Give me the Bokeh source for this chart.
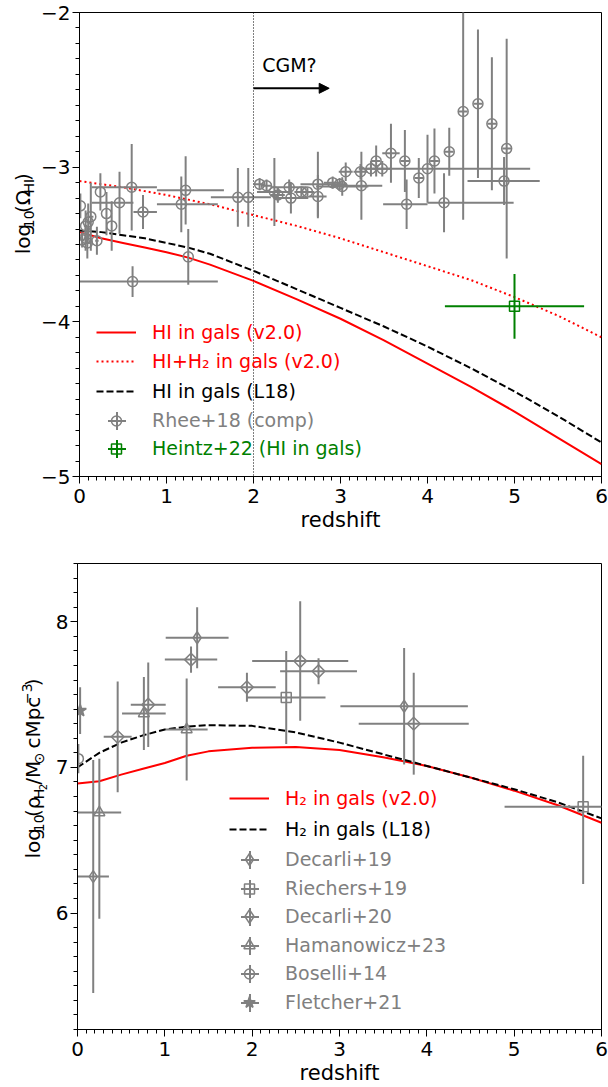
import numpy as np
from bokeh.plotting import figure
from bokeh.models import (ColumnDataSource, FixedTicker, Span, Arrow, NormalHead, Label,
                          Legend, LegendItem, CustomJSTickFormatter, Range1d)
from bokeh.core.properties import value
from bokeh.layouts import column, row
from bokeh.embed import file_html
from bokeh.resources import INLINE

FONT = "DejaVu Sans"
GREY = "#808080"
RED = "#ff0000"
GREEN = "#008000"

# ---------------- top panel: HI ----------------
z_model_hi = [0.0, 0.25, 0.5, 0.75, 1.0, 1.25, 1.5, 2.0, 2.5, 3.0, 3.5, 4.0, 4.5, 5.0, 5.5, 6.0]
log_omega_hi_v20 = [-3.42, -3.46, -3.49, -3.52, -3.55, -3.585, -3.63, -3.735, -3.855, -3.98,
                    -4.12, -4.27, -4.42, -4.58, -4.75, -4.92]
log_omega_hih2_v20 = [-3.09, -3.11, -3.13, -3.155, -3.18, -3.21, -3.24, -3.31, -3.38, -3.46,
                      -3.55, -3.64, -3.73, -3.84, -3.96, -4.10]
log_omega_hi_l18 = [-3.41, -3.42, -3.44, -3.46, -3.49, -3.52, -3.56, -3.67, -3.79, -3.91,
                    -4.03, -4.16, -4.30, -4.45, -4.61, -4.78]

rhee_z = [0.01, 0.03, 0.07, 0.07, 0.09, 0.10, 0.13, 0.20, 0.24, 0.31, 0.37, 0.46, 0.60, 0.61,
          0.73, 1.17, 1.22, 1.25, 1.82, 1.94, 2.07, 2.15, 2.24, 2.28, 2.41, 2.43, 2.55, 2.62,
          2.74, 2.74, 2.91, 2.99, 3.02, 3.06, 3.23, 3.24, 3.35, 3.41, 3.48, 3.58, 3.74, 3.76,
          3.90, 4.00, 4.08, 4.19, 4.25, 4.41, 4.58, 4.74, 4.91, 4.88]
rhee_log_omega = [-3.25, -3.47, -3.46, -3.38, -3.49, -3.355, -3.32, -3.476, -3.16, -3.30, -3.38,
                  -3.23, -3.13, -3.74, -3.29, -3.24, -3.15, -3.58, -3.195, -3.195, -3.11, -3.12,
                  -3.16, -3.18, -3.13, -3.20, -3.16, -3.16, -3.11, -3.19, -3.10, -3.11, -3.125,
                  -3.03, -3.03, -3.12, -3.01, -2.96, -3.01, -2.91, -2.96, -3.24, -3.07, -3.01,
                  -2.96, -3.23, -2.90, -2.64, -2.59, -2.72, -2.88, -3.09]
rhee_zlo = [0.0, 0.02, 0.02, 0.02, 0.03, 0.02, 0.03, 0.02, 0.0, 0.0, 0.0, 0.32, 0.46, 0.61,
            0.11, 0.28, 0.33, 0.0, 0.31, 0.0, 0.06, 0.06, 0.2, 0.08, 0.2, 0.2, 0.08, 0.08,
            0.2, 0.1, 0.1, 0.08, 0.3, 0.08, 0.08, 0.35, 0.05, 0.05, 0.1, 0.1, 0.05, 0.27,
            0.05, 0.79, 0.05, 0.19, 0.05, 0.05, 0.05, 0.05, 0.05, 0.42]
rhee_zhi = [0.0, 0.02, 0.02, 0.02, 0.03, 0.02, 0.03, 0.02, 0.0, 0.0, 0.0, 0.16, 0.29, 0.98,
            0.16, 0.42, 0.44, 0.0, 0.38, 0.0, 0.06, 0.06, 0.2, 0.08, 0.2, 0.2, 0.08, 0.08,
            0.2, 0.1, 0.1, 0.08, 0.3, 0.08, 0.08, 0.24, 0.05, 0.05, 0.1, 0.1, 0.05, 0.24,
            0.05, 1.18, 0.05, 0.80, 0.05, 0.05, 0.05, 0.05, 0.05, 0.41]
rhee_err = [0.08, 0.05, 0.08, 0.10, 0.10, 0.12, 0.22, 0.09, 0.12, 0.14, 0.16, 0.20, 0.28, 0.10,
            0.11, 0.18, 0.22, 0.18, 0.19, 0.19, 0.04, 0.04, 0.22, 0.05, 0.05, 0.10, 0.03, 0.03,
            0.21, 0.14, 0.04, 0.04, 0.06, 0.06, 0.05, 0.22, 0.05, 0.10, 0.05, 0.19, 0.20, 0.16,
            0.13, 0.22, 0.21, 0.19, 0.155, 0.70, 0.48, 0.43, 0.71, 0.155]

heintz_z = [5.0]
heintz_log_omega = [-3.90]
heintz_zerr = [0.8]
heintz_err = [0.21]

cgm_line_z = 2.0
cgm_arrow = dict(z0=2.0, z1=2.87, y=-2.49)
cgm_text = dict(z=2.10, y=-2.34, text="CGM?")

# ---------------- bottom panel: H2 ----------------
z_model_h2 = [0.0, 0.25, 0.5, 0.75, 1.0, 1.25, 1.5, 2.0, 2.5, 3.0, 3.5, 4.0, 4.5, 5.0, 5.5, 6.0]
log_rho_h2_v20 = [6.89, 6.905, 6.95, 6.99, 7.03, 7.08, 7.11, 7.135, 7.14, 7.12, 7.07, 7.01,
                  6.93, 6.84, 6.74, 6.62]
log_rho_h2_l18 = [7.00, 7.10, 7.17, 7.22, 7.26, 7.28, 7.29, 7.285, 7.24, 7.17, 7.09, 7.01,
                  6.93, 6.85, 6.76, 6.65]

decarli19_z = [0.18, 1.37, 3.74]
decarli19_y = [6.25, 7.89, 7.42]
decarli19_zerr = [0.18, 0.36, 0.73]
decarli19_err = [0.80, 0.21, 0.40]

riechers19_z = [2.39, 5.79]
riechers19_y = [7.48, 6.73]
riechers19_zerr = [0.45, 0.90]
riechers19_err_lo = [0.32, 0.53]
riechers19_err_hi = [0.32, 0.35]

decarli20_z = [0.46, 0.81, 1.30, 1.94, 2.55, 2.76, 3.85]
decarli20_y = [7.21, 7.43, 7.74, 7.55, 7.73, 7.66, 7.30]
decarli20_zerr = [0.16, 0.20, 0.30, 0.33, 0.55, 0.44, 0.63]
decarli20_err = [0.38, 0.29, 0.09, 0.10, 0.41, 0.09, 0.35]

hamanowicz23_z = [0.25, 0.76, 1.25]
hamanowicz23_y = [6.69, 7.37, 7.26]
hamanowicz23_zerr = [0.25, 0.25, 0.24]
hamanowicz23_err_lo = [0.73, 0.25, 0.35]
hamanowicz23_err_hi = [0.37, 0.25, 0.35]

boselli14_z = [0.01]
boselli14_y = [7.06]
boselli14_zerr = [0.0]
boselli14_err = [0.10]

fletcher21_z = [0.03]
fletcher21_y = [7.39]
fletcher21_zerr = [0.0]
fletcher21_err = [0.16]

x_major = [0, 1, 2, 3, 4, 5, 6]
x_minor = [round(0.1 * i, 1) for i in range(61)]
y1_major = [-5, -4, -3, -2]
y1_minor = [round(-5 + 0.1 * i, 1) for i in range(31)]
y2_major = [6, 7, 8]
y2_minor = [round(5.2 + 0.1 * i, 1) for i in range(33)]

# ---------------- helpers ----------------
FMT_CODE = "return (tick < 0 ? '\u2212' : '') + Math.abs(tick).toFixed(0);"
NAN = [float("nan")]


def style(p, ymaj, ymin):
    p.xgrid.visible = False
    p.ygrid.visible = False
    p.outline_line_color = "black"
    p.outline_line_width = 1
    p.outline_line_alpha = 1
    p.background_fill_color = "white"
    p.border_fill_color = "white"
    xa = p.xaxis[0]
    ya = p.yaxis[0]
    xa.ticker = FixedTicker(ticks=x_major, minor_ticks=x_minor)
    ya.ticker = FixedTicker(ticks=ymaj, minor_ticks=ymin)
    for a in (xa, ya):
        a.major_tick_in = 0
        a.major_tick_out = 7
        a.minor_tick_in = 0
        a.minor_tick_out = 4
        a.major_tick_line_color = "black"
        a.minor_tick_line_color = "black"
        a.major_tick_line_width = 1
        a.minor_tick_line_width = 1
        a.axis_line_color = "black"
        a.axis_line_width = 1
        a.major_label_text_font = FONT
        a.major_label_text_font_size = "20px"
        a.major_label_text_color = "black"
        a.formatter = CustomJSTickFormatter(code=FMT_CODE)
    xa.major_label_standoff = 5
    ya.major_label_standoff = 2
    xa.axis_label = "redshift"
    xa.axis_label_text_font = FONT
    xa.axis_label_text_font_size = "21px"
    xa.axis_label_text_font_style = "normal"
    xa.axis_label_text_color = "black"
    xa.axis_label_standoff = 2


def errorbar(p, x, y, xlo, xhi, ylo, yhi, color, marker, size, filled=False, angle=0.0):
    x = np.asarray(x, float)
    y = np.asarray(y, float)
    src = ColumnDataSource(dict(
        x=x, y=y,
        xl=x - np.asarray(xlo, float), xr=x + np.asarray(xhi, float),
        yl=y - np.asarray(ylo, float), yu=y + np.asarray(yhi, float)))
    p.segment(x0="xl", y0="y", x1="xr", y1="y", source=src, line_color=color, line_width=2)
    p.segment(x0="x", y0="yl", x1="x", y1="yu", source=src, line_color=color, line_width=2)
    m = p.scatter("x", "y", source=src, marker=marker, size=size, angle=angle,
                  line_color=color, line_width=1.5,
                  fill_color=color if filled else None, fill_alpha=1.0 if filled else 0.0)
    # legend-only handle for the error bars (no visible data)
    cross = p.scatter(x=NAN, y=NAN, marker="cross", size=18, line_color=color, line_width=2)
    return m, cross


def legend_entry(p, renderers, text, color, gx, cy, gh, gw=40):
    lg = Legend(items=[LegendItem(label=value(text), renderers=renderers)],
                location=(gx, cy - gh / 2.0), orientation="vertical",
                glyph_width=gw, glyph_height=gh, label_height=20, label_standoff=16,
                padding=0, margin=0, spacing=0,
                label_text_font=FONT, label_text_font_size="19px", label_text_color=color,
                background_fill_alpha=0, border_line_alpha=0)
    p.add_layout(lg, "center")


def errbar_legend(p, marker_r, cross_r, text, color, gx, cy, gh):
    legend_entry(p, [cross_r], " ", color, gx + 20 - 22.5, cy, 45, gw=45)
    legend_entry(p, [marker_r], text, color, gx, cy, gh)


W = {'l': .278, 'o': .612, 'g': .635, '1': .636, '0': .636, '(': .390, ')': .390, 'Ω': .764,
     'H': .752, 'I': .295, 'ρ': .635, '2': .636, '/': .337, 'M': .863, '⊙': .838, ' ': .318,
     'c': .550, 'p': .635, '−': .838, '3': .636}


def tw(t, sz):
    return sum(W.get(ch, 0.6) for ch in t) * sz


def label_fig(w, h, pieces, xc, yc):
    """A narrow strip holding a vertical axis title built from pieces (sub/superscripts).
    xc is the centre line of the main-size text; pieces carry their own x shift."""
    f = figure(width=w, height=h, x_range=Range1d(0, w), y_range=Range1d(0, h),
               output_backend="svg", toolbar_location=None,
               x_axis_location=None, y_axis_location=None,
               min_border=0, min_border_left=0, min_border_right=0,
               min_border_top=0, min_border_bottom=0)
    f.outline_line_color = None
    f.grid.visible = False
    f.background_fill_color = "white"
    f.border_fill_color = "white"
    total = sum(tw(t, sz) for t, sz, sh in pieces)
    y = yc - total / 2.0
    for t, sz, sh in pieces:
        if t.strip():
            f.add_layout(Label(x=xc + sh, y=y, text=t, angle=np.pi / 2,
                               text_font=FONT, text_font_size=f"{sz}px",
                               text_align="left", text_baseline="middle",
                               text_color="black"))
        y += tw(t, sz)
    return f


# ---------------- top figure ----------------
LAB1_W = 38
p1 = figure(width=608 - LAB1_W, height=545, x_range=Range1d(0, 6), y_range=Range1d(-5, -2),
            output_backend="svg", toolbar_location=None,
            min_border_left=77 - LAB1_W, min_border_right=7, min_border_top=12,
            min_border_bottom=69)
style(p1, y1_major, y1_minor)

r_hi = p1.line(z_model_hi, log_omega_hi_v20, line_color=RED, line_width=2)
r_hih2 = p1.line(z_model_hi, log_omega_hih2_v20, line_color=RED, line_width=2, line_dash="2 3")
r_l18 = p1.line(z_model_hi, log_omega_hi_l18, line_color="black", line_width=2, line_dash="7 3")

p1.add_layout(Span(location=cgm_line_z, dimension="height", line_color="black",
                   line_width=1, line_dash="1 2"))
p1.add_layout(Arrow(end=NormalHead(size=10, fill_color="black", line_color="black", line_width=1),
                    x_start=cgm_arrow["z0"], y_start=cgm_arrow["y"],
                    x_end=cgm_arrow["z1"], y_end=cgm_arrow["y"],
                    line_color="black", line_width=2))
p1.add_layout(Label(x=cgm_text["z"], y=cgm_text["y"], text=cgm_text["text"], text_font=FONT,
                    text_font_size="19px", text_color="black", text_baseline="middle"))

m_rhee, c_rhee = errorbar(p1, rhee_z, rhee_log_omega, rhee_zlo, rhee_zhi, rhee_err, rhee_err,
                          GREY, "circle", 10)
m_hz, c_hz = errorbar(p1, heintz_z, heintz_log_omega, heintz_zerr, heintz_zerr,
                      heintz_err, heintz_err, GREEN, "square", 10)

L1X = 17
legend_entry(p1, [r_hi], "HI in gals (v2.0)", RED, L1X, 144.3, 30)
legend_entry(p1, [r_hih2], "HI+H\u2082 in gals (v2.0)", RED, L1X, 115.0, 30)
legend_entry(p1, [r_l18], "HI in gals (L18)", "black", L1X, 85.0, 30)
errbar_legend(p1, m_rhee, c_rhee, "Rhee+18 (comp)", GREY, L1X, 56.0, 25)
errbar_legend(p1, m_hz, c_hz, "Heintz+22 (HI in gals)", GREEN, L1X, 27.7, 25)

lab1 = label_fig(LAB1_W, 545,
                 [("log", 20, 0), ("10", 14, 6.5), ("(Ω", 20, 0), ("HI", 14, 6.5), (")", 20, 0)],
                 22, 545 - 237)

# ---------------- bottom figure ----------------
LAB2_W = 50
p2 = figure(width=608 - LAB2_W, height=542, x_range=Range1d(0, 6), y_range=Range1d(5.2, 8.4),
            output_backend="svg", toolbar_location=None,
            min_border_left=77 - LAB2_W, min_border_right=7, min_border_top=18,
            min_border_bottom=58)
style(p2, y2_major, y2_minor)

r_h2 = p2.line(z_model_h2, log_rho_h2_v20, line_color=RED, line_width=2)
r_h2l = p2.line(z_model_h2, log_rho_h2_l18, line_color="black", line_width=2, line_dash="7 3")

m_d19, c_d19 = errorbar(p2, decarli19_z, decarli19_y, decarli19_zerr, decarli19_zerr,
                        decarli19_err, decarli19_err, GREY, "diamond", 12)
m_r19, c_r19 = errorbar(p2, riechers19_z, riechers19_y, riechers19_zerr, riechers19_zerr,
                        riechers19_err_lo, riechers19_err_hi, GREY, "square", 10)
m_d20, c_d20 = errorbar(p2, decarli20_z, decarli20_y, decarli20_zerr, decarli20_zerr,
                        decarli20_err, decarli20_err, GREY, "square", 9, angle=np.pi / 4)
m_h23, c_h23 = errorbar(p2, hamanowicz23_z, hamanowicz23_y, hamanowicz23_zerr, hamanowicz23_zerr,
                        hamanowicz23_err_lo, hamanowicz23_err_hi, GREY, "triangle", 11)
m_b14, c_b14 = errorbar(p2, boselli14_z, boselli14_y, boselli14_zerr, boselli14_zerr,
                        boselli14_err, boselli14_err, GREY, "circle", 10)
m_f21, c_f21 = errorbar(p2, fletcher21_z, fletcher21_y, fletcher21_zerr, fletcher21_zerr,
                        fletcher21_err, fletcher21_err, GREY, "star", 13, filled=True)
# legend handle for the wide diamond (legend markers are drawn unrotated)
d20_handle = p2.scatter(x=NAN, y=NAN, marker="diamond", line_color=GREY, line_width=1.5,
                        fill_alpha=0.0)

L2X = 152
legend_entry(p2, [r_h2], "H\u2082 in gals (v2.0)", RED, L2X, 230.7, 30)
legend_entry(p2, [r_h2l], "H\u2082 in gals (L18)", "black", L2X, 199.7, 30)
errbar_legend(p2, m_d19, c_d19, "Decarli+19", GREY, L2X, 170.0, 30)
errbar_legend(p2, m_r19, c_r19, "Riechers+19", GREY, L2X, 141.0, 25)
errbar_legend(p2, d20_handle, c_d20, "Decarli+20", GREY, L2X, 113.0, 34)
errbar_legend(p2, m_h23, c_h23, "Hamanowicz+23", GREY, L2X, 84.0, 28)
errbar_legend(p2, m_b14, c_b14, "Boselli+14", GREY, L2X, 56.0, 25)
errbar_legend(p2, m_f21, c_f21, "Fletcher+21", GREY, L2X, 27.0, 30)

lab2 = label_fig(LAB2_W, 542,
                 [("log", 20, 0), ("10", 14, 6.5), ("(ρ", 20, 0), ("H", 14, 6.5), ("2", 10, 10),
                  ("/M", 20, 0), ("⊙", 14, 6.5), (" ", 20, 0), ("cMpc", 20, 0), ("−3", 14, -6),
                  (")", 20, 0)],
                 32, 542 - (784 - 545))

layout = column(row(lab1, p1), row(lab2, p2))
with open("out.html", "w", encoding="utf-8") as f:
    f.write(file_html(layout, INLINE))
